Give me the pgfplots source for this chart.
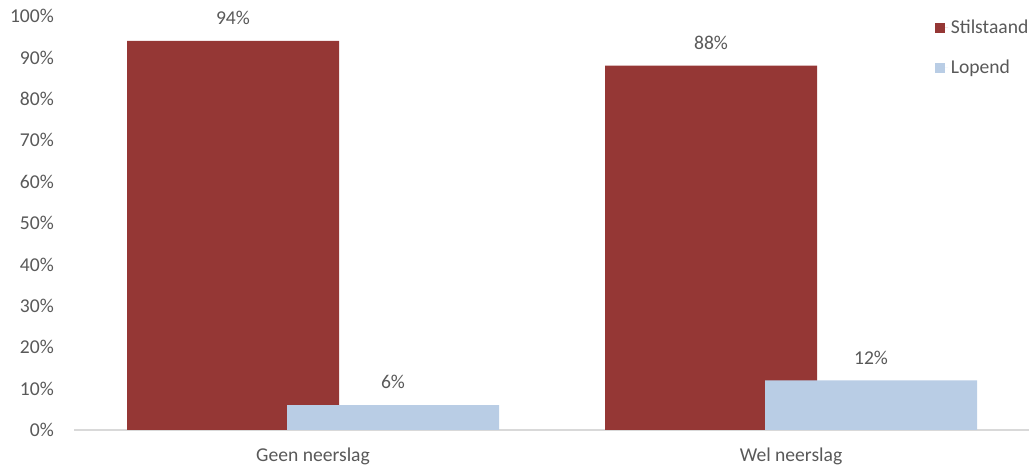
\documentclass[border=0pt]{standalone}
\usepackage{fontspec}
\setmainfont{Carlito}
\usepackage{pgfplots}
\pgfplotsset{compat=1.18}
\definecolor{redbar}{HTML}{953735}
\definecolor{bluebar}{HTML}{B9CDE5}
\definecolor{txt}{HTML}{595959}
\definecolor{axl}{HTML}{D9D9D9}
\begin{document}
\fontsize{14.7}{17}\selectfont
\begin{tikzpicture}
\path[use as bounding box] (0,0) rectangle (771.75pt,351pt);
\begin{axis}[
  at={(55.5pt,28.5pt)}, anchor=south west,
  scale only axis, width=717pt, height=310.5pt,
  /pgf/number format/assume math mode=true,
  font=\fontsize{14.7}{17}\selectfont,
  ybar, bar width=159pt,
  xmin=-0.5, xmax=1.5, ymin=0, ymax=100,
  ytick={0,10,...,100},
  yticklabel={\pgfmathprintnumber{\tick}\%},
  xtick={0,1}, xticklabels={Geen neerslag, Wel neerslag},
  axis x line*=bottom, axis y line*=left,
  x axis line style={draw=axl, line width=1pt, -},
  y axis line style={draw=none},
  major tick length=0pt,
  tick style={draw=none},
  yticklabel style={text=txt, xshift=-10pt},
  xticklabel style={text=txt, yshift=-8pt},
  nodes near coords={\pgfmathprintnumber{\pgfplotspointmeta}\%},
  nodes near coords style={text=txt, yshift=7pt},
  legend image code/.code={\fill[#1] (0pt,-3.75pt) rectangle (7.5pt,3.75pt); \path (0pt,0pt) -- (10pt,0pt);},
  legend style={at={(0.896,1.005)}, anchor=north west, draw=none, fill=none,
    text=txt, row sep=13.5pt, font=\fontsize{14.7}{17}\selectfont},
  legend cell align=left,
  clip=false,
]
\addplot[fill=redbar, draw=none, bar shift=-60pt] coordinates {(0,94) (1,88)};
\addlegendentry{Stilstaand}
\addplot[fill=bluebar, draw=none, bar shift=60pt] coordinates {(0,6) (1,12)};
\addlegendentry{Lopend}
\end{axis}
\end{tikzpicture}
\end{document}
